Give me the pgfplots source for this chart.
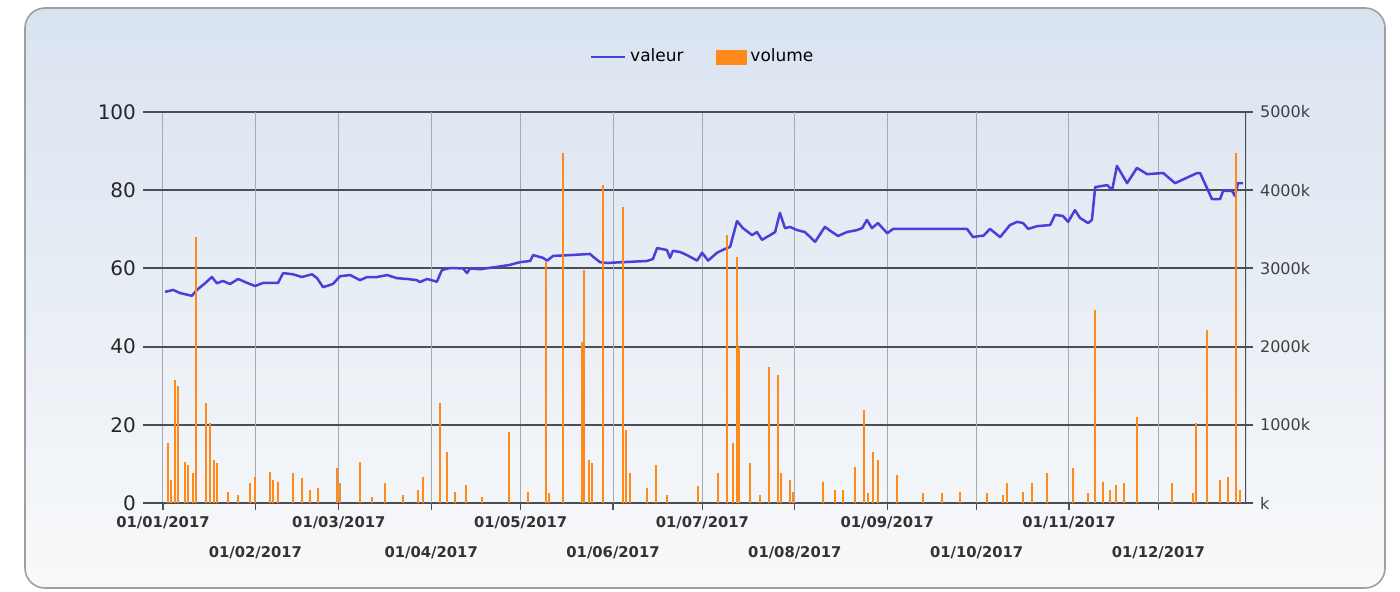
\documentclass[border=0pt]{standalone}
\usepackage{fontspec}
\setmainfont{DejaVu Sans}
\usepackage{pgfplots}
\pgfplotsset{compat=1.18}
\definecolor{valblue}{HTML}{4A3FD8}
\definecolor{volorange}{HTML}{FF8A1C}
\definecolor{gridd}{HTML}{4A4E55}
\definecolor{gridv}{HTML}{A4AAB3}
\definecolor{paneltop}{HTML}{D9E3F0}
\definecolor{panelbot}{HTML}{F8F9FA}

\pgfplotstableread{
d v
0.7 54.0
3.4 54.5
5.7 53.7
9.7 53.0
11.4 54.5
14.1 56.2
16.4 57.8
18.1 56.2
20.1 56.8
22.5 56.0
25.2 57.3
28.2 56.3
30.9 55.5
33.6 56.3
38.6 56.3
40.3 58.8
43.6 58.5
46.6 57.8
50.0 58.5
51.7 57.5
53.7 55.2
57.0 56.0
59.4 58.0
62.8 58.3
66.1 57.0
68.5 57.8
71.8 57.8
75.2 58.3
78.5 57.5
81.9 57.3
85.2 57.0
86.2 56.5
88.6 57.3
91.9 56.6
93.6 59.6
96.3 60.1
100.7 60.0
102.0 58.8
103.0 60.0
106.4 59.8
112.1 60.4
116.4 60.9
119.8 61.6
123.2 61.9
124.2 63.4
127.5 62.7
128.9 62.0
130.9 63.2
136.6 63.4
143.3 63.7
144.3 63.0
146.6 61.6
149.0 61.4
154.4 61.6
162.4 61.9
164.4 62.4
165.8 65.2
169.1 64.7
170.1 62.7
171.1 64.5
173.5 64.2
175.8 63.4
179.2 62.0
180.9 64.0
182.9 62.0
185.9 64.0
188.6 65.0
190.3 65.5
192.6 72.1
194.6 70.3
197.7 68.5
199.3 69.3
201.0 67.3
203.7 68.5
205.4 69.3
207.0 74.2
208.7 70.3
210.4 70.6
212.8 69.8
215.4 69.3
218.8 66.8
222.1 70.6
224.5 69.3
226.5 68.3
229.5 69.3
232.9 69.8
234.6 70.3
236.2 72.4
237.9 70.3
239.9 71.6
243.0 69.0
245.0 70.1
255.0 70.1
263.1 70.1
269.8 70.1
271.8 68.0
274.2 68.3
275.2 68.3
277.5 70.1
280.9 68.0
284.2 71.1
286.6 71.9
288.6 71.6
290.3 70.1
293.3 70.8
297.7 71.1
299.3 73.7
302.0 73.4
303.7 71.9
306.0 74.9
307.7 72.9
310.4 71.6
311.7 72.4
312.8 80.8
316.8 81.3
318.5 80.1
320.1 86.2
323.5 81.8
326.8 85.7
330.2 84.1
335.6 84.4
339.6 81.8
347.0 84.4
348.0 84.4
352.0 77.7
354.7 77.7
355.7 79.8
358.7 79.8
359.7 78.5
360.7 81.8
362.4 81.8
}\valeur

\pgfplotstableread{
d v
1.7 767
2.7 300
4.0 1573
5.0 1500
7.4 524
8.4 480
10.1 384
11.1 3402
14.4 1279
15.8 1023
17.1 550
18.1 511
21.8 141
25.2 102
29.2 256
30.9 333
35.9 397
36.9 294
38.6 269
43.6 384
46.6 320
49.3 166
52.0 192
58.4 448
59.4 256
66.1 524
70.1 77
74.5 256
80.5 102
85.6 166
87.2 333
93.0 1279
95.3 652
98.0 141
101.7 230
107.0 77
116.1 908
122.5 141
128.5 3082
129.5 128
134.2 4477
140.6 2059
141.3 2980
143.0 550
144.0 511
147.7 4067
154.4 3786
155.4 934
156.7 384
162.4 192
165.4 486
169.1 102
179.5 217
186.2 384
189.3 3428
191.3 767
192.6 3146
193.3 1995
197.0 511
200.3 102
203.4 1739
206.4 1637
207.4 384
210.4 294
211.4 141
221.5 269
225.5 166
228.2 166
232.2 460
235.2 1189
236.6 128
238.3 652
239.9 550
246.3 358
255.0 128
261.4 128
267.4 141
276.5 128
281.9 102
283.2 256
288.6 141
291.6 256
296.6 384
305.4 448
310.4 128
312.8 2469
315.4 269
317.8 166
319.8 230
322.5 256
326.8 1100
338.6 256
345.6 128
346.6 1023
350.3 2213
354.7 294
357.4 333
360.1 4477
361.4 166
}\volume

\pgfplotsset{
  mybase/.style={
    scale only axis, width=548pt, height=195.5pt,
    at={(75pt,44pt)}, anchor=south west,
    xmin=-4.36, xmax=363.4,
    axis line style={draw=none},
    tick align=outside,
    major tick length=3.5pt,
    /pgf/number format/assume math mode=true,
  },
  every major grid/.style={},
}

\begin{document}
\begin{tikzpicture}
\useasboundingbox (0pt,0pt) rectangle (700pt,295.5pt);
\shade[top color=paneltop, bottom color=panelbot, rounded corners=10pt]
  (12.5pt,1.5pt) rectangle (692.5pt,291.5pt);
\draw[rounded corners=10pt, draw=gray!75, line width=0.8pt]
  (12.5pt,1.5pt) rectangle (692.5pt,291.5pt);

\begin{axis}[mybase,
  ymin=0, ymax=100, ytick={0,20,...,100},
  ytick pos=left, xtick pos=bottom,
  xtick={0,59,120,181,243,304},
  xticklabels={01/01/2017,01/03/2017,01/05/2017,01/07/2017,01/09/2017,01/11/2017},
  extra x ticks={31,90,151,212,273,334},
  extra x tick labels={01/02/2017,01/04/2017,01/06/2017,01/08/2017,01/10/2017,01/12/2017},
  extra x tick style={xticklabel style={yshift=-15pt}},
  xmajorgrids, ymajorgrids,
  every axis x grid/.style={draw=gridv, line width=0.5pt},
  every axis y grid/.style={draw=gridd, line width=1pt},
  xtick style={draw=gridd, line width=0.6pt},
  ytick style={draw=gridd, line width=1pt},
  xticklabel style={font=\bfseries\fontsize{7.4}{9}\selectfont, text=black!80, anchor=north, yshift=0.5pt},
  yticklabel style={font=\fontsize{10}{12}\selectfont, text=black!85},
  legend style={at={(0.505,1.1407)}, anchor=center, draw=none, fill=none,
    legend columns=2, font=\fontsize{8.5}{10}\selectfont,
    /tikz/every even column/.append style={column sep=14pt}},
]
\addplot[valblue, line width=1.25pt, line join=round] table[x=d, y=v] {\valeur};
\addlegendentry{valeur}
\addlegendimage{legend image code/.code={\fill[volorange] (0pt,-3.5pt) rectangle (15pt,3.5pt);}}
\addlegendentry{volume}
\end{axis}

\begin{axis}[mybase,
  ymin=0, ymax=5000, ytick={0,1000,...,5000},
  yticklabels={k,1000k,2000k,3000k,4000k,5000k},
  ytick pos=right, xtick=\empty,
  ytick style={draw=gridd, line width=1pt},
  yticklabel style={font=\fontsize{8}{10}\selectfont, text=black!75},
]
\addplot[ycomb, volorange, line width=1.1pt, mark=none] table[x=d, y=v] {\volume};
\draw[gridd, line width=1pt] (rel axis cs:1,0) -- (rel axis cs:1,1);
\end{axis}
\end{tikzpicture}
\end{document}
